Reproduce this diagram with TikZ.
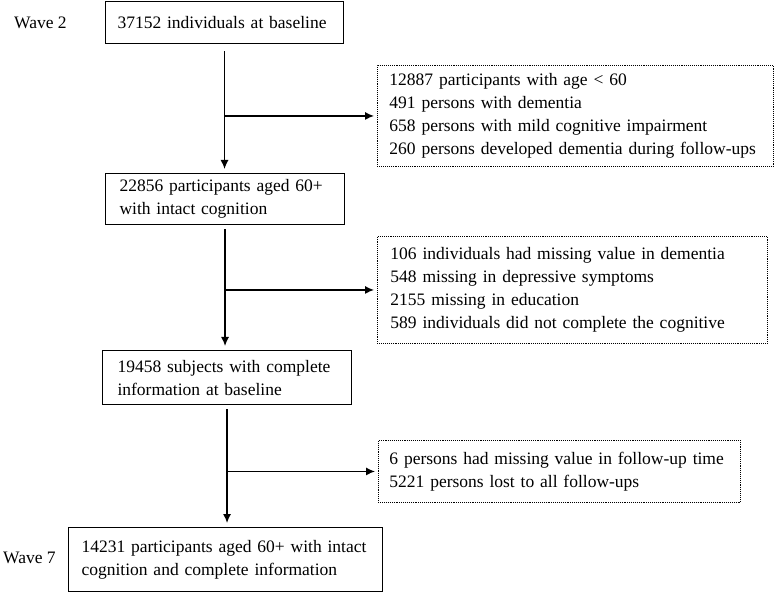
\documentclass[tikz,border=0pt]{standalone}
\usepackage{fontspec}
\setmainfont{Liberation Serif}
\usetikzlibrary{arrows.meta,calc}

\tikzset{
  mainbox/.style={draw, line width=1.1pt, anchor=north west, align=left,
                  inner ysep=0pt, font=\fontsize{17.5}{23}\selectfont},
  exclbox/.style={draw, densely dotted, line width=0.9pt, anchor=north west,
                  align=left, inner ysep=0pt, font=\fontsize{17.5}{23}\selectfont},
  wavelabel/.style={anchor=west, inner sep=0pt, font=\fontsize{17.5}{23}\selectfont},
  flow/.style={-{Latex[length=9pt,width=8pt]}, line width=1.2pt}
}

\begin{document}
\begin{tikzpicture}[x=1pt,y=-1pt]

\useasboundingbox (0,0) rectangle (774,593);

% Main boxes:
\node[mainbox, inner xsep=12pt, text width=214pt, minimum height=42pt] (start) at (105,1)
  {37152 individuals at baseline};
\node[mainbox, inner xsep=14pt, text width=211pt, minimum height=51pt] (intact) at (105,173)
  {22856 participants aged 60+\\with intact cognition};
\node[mainbox, inner xsep=15pt, text width=219pt, minimum height=54pt] (complete) at (102,350)
  {19458 subjects with complete\\information at baseline};
\node[mainbox, inner xsep=13pt, text width=288pt, minimum height=64pt] (final) at (68,527)
  {14231 participants aged 60+ with intact\\cognition and complete information};

% Exclusion boxes:
\node[exclbox, inner xsep=12pt, text width=372pt, minimum height=101pt] (excla) at (377,65)
  {12887 participants with age < 60\\491 persons with dementia\\658 persons with mild cognitive impairment\\260 persons developed dementia during follow-ups};
\node[exclbox, inner xsep=13pt, text width=364pt, minimum height=107pt] (exclb) at (377,236)
  {106 individuals had missing value in dementia\\548 missing in depressive symptoms\\2155 missing in education\\589 individuals did not complete the cognitive};
\node[exclbox, inner xsep=11pt, text width=340pt, minimum height=62pt] (exclc) at (378,440)
  {6 persons had missing value in follow-up time\\5221 persons lost to all follow-ups};

% Wave labels:
\node[wavelabel] (wavea) at (14,23) {Wave 2};
\node[wavelabel] (waveb) at (3,558) {Wave 7};

% Main flow:
\draw[flow, shorten <=7pt, shorten >=4pt] (start) -- (start |- intact.north);
\draw[flow, shorten <=4pt, shorten >=4pt] (intact) -- (intact |- complete.north);
\draw[flow, shorten <=4pt, shorten >=4pt] (complete) -- (complete |- final.north);

% Side branches:
\coordinate (splita) at (start.south |- excla.west);
\coordinate (splitb) at (intact.south |- exclb.west);
\coordinate (splitc) at (complete.south |- exclc.west);
\draw[flow, shorten >=3pt] (splita) -- (excla);
\draw[flow, shorten >=3pt] (splitb) -- (exclb);
\draw[flow, shorten >=3pt] (splitc) -- (exclc);

\end{tikzpicture}
\end{document}
